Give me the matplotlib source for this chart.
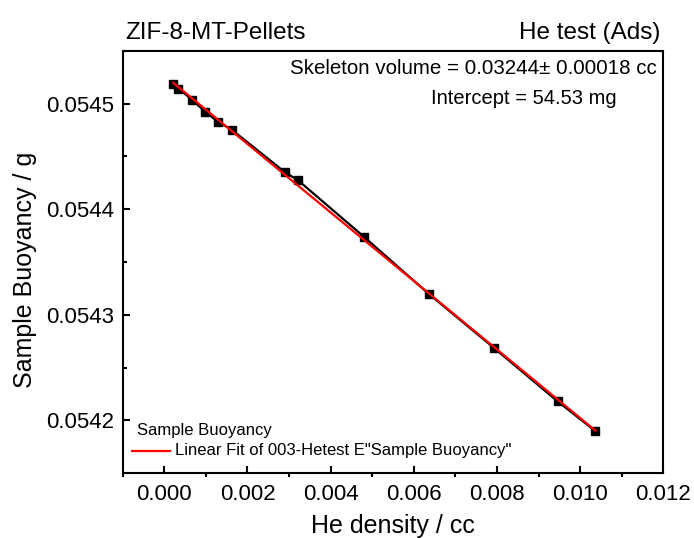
import numpy as np
import matplotlib
matplotlib.use("Agg")
import matplotlib.pyplot as plt
from matplotlib.ticker import MultipleLocator, FormatStrFormatter

plt.rcParams['font.family'] = ['Liberation Sans', 'DejaVu Sans']

# Data
he_density = [0.000216, 0.000336, 0.000665, 0.000984, 0.001296, 0.001625,
              0.002904, 0.003209, 0.004800, 0.006360, 0.007920, 0.009456, 0.010368]
buoyancy = [0.0545189, 0.0545142, 0.0545038, 0.0544921, 0.0544826, 0.0544751,
            0.0544349, 0.0544276, 0.0543739, 0.0543198, 0.0542689, 0.0542182, 0.0541899]

title_left = "ZIF-8-MT-Pellets"
title_right = "He test (Ads)"
note1 = "Skeleton volume = 0.03244\u00b1 0.00018 cc"
note2 = "Intercept = 54.53 mg"
legend_labels = ["Sample Buoyancy", 'Linear Fit of 003-Hetest E"Sample Buoyancy"']

x = np.array(he_density)
y = np.array(buoyancy)
slope, intercept = np.polyfit(x, y, 1)
xf = np.array([x.min(), x.max()])
yf = slope * xf + intercept

W, H = 694, 538
fig = plt.figure(figsize=(W / 100, H / 100), dpi=100)
ax = fig.add_axes([122.7 / W, 1 - 473.3 / H, (663.3 - 122.7) / W, (473.3 - 50.7) / H])

ax.plot(x, y, color='black', lw=1.6, marker='s', ms=6.3, mfc='black', mec='black', zorder=3)
ax.plot(xf, yf, color='#ff0000', lw=1.6, zorder=4)

ax.set_xlim(-0.001, 0.012)
ax.set_ylim(0.05415, 0.05455)
ax.xaxis.set_major_locator(MultipleLocator(0.002))
ax.xaxis.set_minor_locator(MultipleLocator(0.001))
ax.yaxis.set_major_locator(MultipleLocator(0.0001))
ax.yaxis.set_minor_locator(MultipleLocator(0.00005))
ax.xaxis.set_major_formatter(FormatStrFormatter('%.3f'))
ax.yaxis.set_major_formatter(FormatStrFormatter('%.4f'))

for s in ax.spines.values():
    s.set_linewidth(1.5)

ax.tick_params(axis='x', which='major', direction='in', length=5, width=1.5, labelsize=16, pad=8)
ax.tick_params(axis='x', which='minor', direction='out', length=3, width=1.5)
ax.tick_params(axis='y', which='major', direction='in', length=5, width=1.5, labelsize=16, pad=6)
ax.tick_params(axis='y', which='minor', direction='in', length=3, width=1.5)

ax.set_xlabel("He density / cc", fontsize=18, labelpad=6)
ax.set_ylabel("Sample Buoyancy / g", fontsize=18, va='center')
ax.yaxis.set_label_coords((25 - 122.7) / (663.3 - 122.7), (473.3 - 270) / (473.3 - 50.7))

fig.text(125 / W, 1 - 33 / H, title_left, fontsize=17.5, ha='left', va='center')
fig.text(660 / W, 1 - 33 / H, title_right, fontsize=17.5, ha='right', va='center')

fig.text(657 / W, 1 - 68 / H, note1, fontsize=14.8, ha='right', va='center')
fig.text(617 / W, 1 - 99 / H, note2, fontsize=14.5, ha='right', va='center')

# legend
fig.text(137 / W, 1 - 431 / H, legend_labels[0], fontsize=12, ha='left', va='center')
fig.add_artist(plt.Line2D([131.7 / W, 170 / W], [1 - 451 / H, 1 - 451 / H],
                          color='#ff0000', lw=1.6, transform=fig.transFigure))
fig.text(175 / W, 1 - 451 / H, legend_labels[1], fontsize=12, ha='left', va='center')

fig.savefig("out.png", dpi=100)
